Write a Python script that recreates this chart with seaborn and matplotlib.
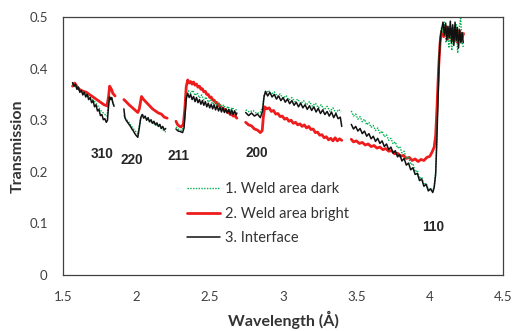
import matplotlib
matplotlib.use("Agg")
import matplotlib.pyplot as plt
from matplotlib.lines import Line2D
import seaborn as sns
import pandas as pd

# ---- data ----
series_names = ["1. Weld area dark", "2. Weld area bright", "3. Interface"]

dark_x = [
    [1.565, 1.60, 1.64, 1.68, 1.72, 1.76, 1.79, 1.80, 1.81, 1.82, 1.835, 1.848],
    [1.915, 1.93, 1.95, 1.97, 1.99, 2.01, 2.025, 2.04, 2.06, 2.08, 2.10, 2.13, 2.16, 2.18, 2.20],
    [2.27, 2.29, 2.31, 2.325, 2.335, 2.345, 2.355, 2.37, 2.385, 2.40, 2.415, 2.43, 2.445, 2.46, 2.475, 2.49, 2.505, 2.52, 2.535, 2.55, 2.565, 2.58, 2.595, 2.61, 2.625, 2.64, 2.655, 2.67, 2.685],
    [2.745, 2.77, 2.795, 2.82, 2.845, 2.86, 2.87, 2.885, 2.90, 2.92, 2.94, 2.96, 2.98, 3.00, 3.02, 3.04, 3.06, 3.08, 3.10, 3.12, 3.14, 3.16, 3.18, 3.20, 3.22, 3.24, 3.26, 3.28, 3.30, 3.32, 3.34, 3.36, 3.38, 3.395],
    [3.465, 3.48, 3.495, 3.51, 3.525, 3.54, 3.555, 3.57, 3.585, 3.60, 3.615, 3.63, 3.645, 3.66, 3.675, 3.69, 3.705, 3.72, 3.735, 3.75, 3.765, 3.78, 3.795, 3.81, 3.825, 3.84, 3.855, 3.87, 3.885, 3.90, 3.915, 3.93, 3.945, 3.96, 3.975, 3.99, 4.005, 4.02, 4.03, 4.04, 4.048, 4.056, 4.064, 4.072, 4.08, 4.09, 4.10, 4.11, 4.12, 4.13, 4.14, 4.15, 4.16, 4.17, 4.18, 4.19, 4.20, 4.21, 4.22, 4.23],
]
dark_y = [
    [0.370, 0.360, 0.354, 0.345, 0.335, 0.318, 0.310, 0.308, 0.335, 0.345, 0.338, 0.330],
    [0.310, 0.302, 0.296, 0.287, 0.280, 0.274, 0.298, 0.312, 0.305, 0.300, 0.296, 0.292, 0.287, 0.282, 0.277],
    [0.287, 0.282, 0.280, 0.290, 0.325, 0.350, 0.357, 0.352, 0.358, 0.348, 0.353, 0.343, 0.349, 0.339, 0.345, 0.335, 0.340, 0.331, 0.336, 0.327, 0.333, 0.324, 0.330, 0.321, 0.327, 0.319, 0.325, 0.317, 0.322],
    [0.320, 0.316, 0.319, 0.313, 0.315, 0.325, 0.348, 0.352, 0.358, 0.350, 0.355, 0.346, 0.351, 0.342, 0.348, 0.339, 0.344, 0.336, 0.341, 0.332, 0.338, 0.330, 0.336, 0.327, 0.333, 0.324, 0.330, 0.320, 0.327, 0.317, 0.324, 0.314, 0.321, 0.316],
    [0.318, 0.308, 0.312, 0.302, 0.307, 0.297, 0.302, 0.291, 0.296, 0.286, 0.290, 0.280, 0.285, 0.274, 0.279, 0.268, 0.272, 0.261, 0.265, 0.254, 0.258, 0.246, 0.249, 0.237, 0.240, 0.226, 0.229, 0.214, 0.216, 0.200, 0.203, 0.187, 0.190, 0.175, 0.178, 0.166, 0.168, 0.162, 0.172, 0.200, 0.27, 0.35, 0.43, 0.465, 0.48, 0.47, 0.49, 0.45, 0.48, 0.44, 0.47, 0.435, 0.48, 0.45, 0.485, 0.43, 0.475, 0.50, 0.45, 0.44],
]

bright_x = [
    [1.565, 1.58, 1.60, 1.62, 1.64, 1.66, 1.68, 1.70, 1.72, 1.74, 1.76, 1.78, 1.80, 1.81, 1.818, 1.83, 1.84, 1.855],
    [1.915, 1.93, 1.95, 1.97, 1.99, 2.01, 2.02, 2.035, 2.05, 2.07, 2.09, 2.11, 2.13, 2.15, 2.17, 2.19, 2.21],
    [2.27, 2.28, 2.29, 2.305, 2.32, 2.33, 2.34, 2.35, 2.36, 2.37, 2.38, 2.39, 2.40, 2.41, 2.42, 2.43, 2.44, 2.45, 2.46, 2.47, 2.48, 2.49, 2.50, 2.51, 2.52, 2.53, 2.54, 2.55, 2.56, 2.57, 2.58, 2.59, 2.60, 2.61, 2.62, 2.63, 2.64, 2.65, 2.66, 2.67, 2.685],
    [2.745, 2.765, 2.785, 2.805, 2.825, 2.845, 2.858, 2.865, 2.875, 2.89, 2.905, 2.92, 2.935, 2.95, 2.965, 2.98, 2.995, 3.01, 3.025, 3.04, 3.055, 3.07, 3.085, 3.10, 3.115, 3.13, 3.145, 3.16, 3.175, 3.19, 3.205, 3.22, 3.235, 3.25, 3.265, 3.28, 3.295, 3.31, 3.325, 3.34, 3.355, 3.37, 3.385, 3.40],
    [3.465, 3.48, 3.50, 3.52, 3.54, 3.56, 3.58, 3.60, 3.62, 3.64, 3.66, 3.68, 3.70, 3.72, 3.74, 3.76, 3.78, 3.80, 3.82, 3.84, 3.86, 3.88, 3.90, 3.92, 3.94, 3.96, 3.98, 4.00, 4.015, 4.03, 4.04, 4.05, 4.06, 4.07, 4.08, 4.095, 4.11, 4.125, 4.14, 4.155, 4.17, 4.185, 4.20, 4.215, 4.23],
]
bright_y = [
    [0.366, 0.372, 0.363, 0.358, 0.356, 0.354, 0.350, 0.346, 0.342, 0.338, 0.334, 0.330, 0.328, 0.345, 0.366, 0.360, 0.352, 0.347],
    [0.340, 0.336, 0.330, 0.325, 0.320, 0.315, 0.322, 0.346, 0.340, 0.334, 0.328, 0.322, 0.318, 0.314, 0.312, 0.306, 0.304],
    [0.298, 0.292, 0.289, 0.287, 0.292, 0.320, 0.365, 0.378, 0.372, 0.375, 0.370, 0.374, 0.368, 0.370, 0.364, 0.366, 0.360, 0.361, 0.355, 0.356, 0.350, 0.350, 0.344, 0.345, 0.339, 0.339, 0.334, 0.334, 0.328, 0.329, 0.323, 0.324, 0.319, 0.320, 0.315, 0.316, 0.311, 0.312, 0.308, 0.309, 0.304],
    [0.296, 0.291, 0.289, 0.283, 0.281, 0.276, 0.280, 0.305, 0.326, 0.322, 0.324, 0.317, 0.319, 0.312, 0.313, 0.307, 0.308, 0.302, 0.304, 0.298, 0.300, 0.294, 0.296, 0.291, 0.293, 0.288, 0.291, 0.285, 0.288, 0.282, 0.283, 0.276, 0.277, 0.271, 0.272, 0.266, 0.268, 0.262, 0.265, 0.260, 0.266, 0.260, 0.264, 0.261],
    [0.263, 0.258, 0.260, 0.255, 0.257, 0.252, 0.254, 0.249, 0.251, 0.246, 0.248, 0.243, 0.245, 0.240, 0.241, 0.235, 0.236, 0.230, 0.232, 0.226, 0.228, 0.222, 0.225, 0.220, 0.224, 0.222, 0.228, 0.230, 0.238, 0.248, 0.270, 0.330, 0.400, 0.450, 0.472, 0.462, 0.482, 0.458, 0.478, 0.455, 0.476, 0.452, 0.474, 0.455, 0.468],
]

inter_x = [
    [1.565, 1.575, 1.585, 1.595, 1.605, 1.615, 1.625, 1.635, 1.645, 1.655, 1.665, 1.675, 1.685, 1.695, 1.705, 1.715, 1.725, 1.735, 1.745, 1.755, 1.765, 1.775, 1.785, 1.795, 1.803, 1.81, 1.817, 1.825, 1.832, 1.84, 1.848],
    [1.915, 1.922, 1.93, 1.94, 1.95, 1.96, 1.97, 1.98, 1.99, 2.00, 2.01, 2.02, 2.03, 2.04, 2.05, 2.06, 2.07, 2.08, 2.09, 2.10, 2.11, 2.12, 2.13, 2.14, 2.15, 2.16, 2.17, 2.18, 2.19, 2.20],
    [2.27, 2.285, 2.30, 2.315, 2.325, 2.333, 2.34, 2.35, 2.36, 2.37, 2.38, 2.39, 2.40, 2.41, 2.42, 2.43, 2.44, 2.45, 2.46, 2.47, 2.48, 2.49, 2.50, 2.51, 2.52, 2.53, 2.54, 2.55, 2.56, 2.57, 2.58, 2.59, 2.60, 2.61, 2.62, 2.63, 2.64, 2.65, 2.66, 2.67, 2.68, 2.685],
    [2.745, 2.765, 2.785, 2.805, 2.825, 2.845, 2.86, 2.87, 2.88, 2.895, 2.91, 2.925, 2.94, 2.955, 2.97, 2.985, 3.00, 3.015, 3.03, 3.045, 3.06, 3.075, 3.09, 3.105, 3.12, 3.135, 3.15, 3.165, 3.18, 3.195, 3.21, 3.225, 3.24, 3.255, 3.27, 3.285, 3.30, 3.315, 3.33, 3.345, 3.36, 3.375, 3.39, 3.40],
    [3.465, 3.48, 3.495, 3.51, 3.525, 3.54, 3.555, 3.57, 3.585, 3.60, 3.615, 3.63, 3.645, 3.66, 3.675, 3.69, 3.705, 3.72, 3.735, 3.75, 3.765, 3.78, 3.795, 3.81, 3.825, 3.84, 3.855, 3.87, 3.885, 3.90, 3.915, 3.93, 3.945, 3.96, 3.975, 3.99, 4.005, 4.02, 4.03, 4.04, 4.048, 4.056, 4.064, 4.072, 4.08, 4.09, 4.10, 4.108, 4.116, 4.124, 4.132, 4.14, 4.148, 4.156, 4.164, 4.172, 4.18, 4.188, 4.196, 4.204, 4.212, 4.22, 4.228],
]
inter_y = [
    [0.373, 0.366, 0.370, 0.360, 0.364, 0.354, 0.358, 0.349, 0.354, 0.345, 0.350, 0.340, 0.344, 0.334, 0.338, 0.326, 0.330, 0.318, 0.321, 0.309, 0.311, 0.301, 0.303, 0.296, 0.300, 0.325, 0.345, 0.340, 0.344, 0.333, 0.327],
    [0.322, 0.305, 0.300, 0.296, 0.292, 0.288, 0.283, 0.279, 0.274, 0.270, 0.267, 0.285, 0.305, 0.311, 0.304, 0.308, 0.300, 0.305, 0.297, 0.301, 0.294, 0.298, 0.291, 0.295, 0.288, 0.292, 0.284, 0.288, 0.281, 0.284],
    [0.283, 0.279, 0.278, 0.276, 0.285, 0.315, 0.342, 0.352, 0.344, 0.350, 0.340, 0.346, 0.336, 0.344, 0.334, 0.340, 0.331, 0.338, 0.329, 0.336, 0.326, 0.333, 0.324, 0.331, 0.322, 0.330, 0.320, 0.328, 0.318, 0.325, 0.316, 0.324, 0.315, 0.322, 0.314, 0.321, 0.312, 0.320, 0.311, 0.318, 0.310, 0.314],
    [0.315, 0.309, 0.314, 0.308, 0.312, 0.305, 0.318, 0.345, 0.356, 0.347, 0.354, 0.345, 0.350, 0.341, 0.347, 0.338, 0.344, 0.335, 0.341, 0.332, 0.338, 0.329, 0.335, 0.326, 0.333, 0.324, 0.330, 0.321, 0.328, 0.319, 0.326, 0.316, 0.323, 0.313, 0.320, 0.311, 0.317, 0.308, 0.316, 0.305, 0.313, 0.303, 0.306, 0.288],
    [0.292, 0.283, 0.288, 0.279, 0.284, 0.274, 0.279, 0.269, 0.274, 0.264, 0.269, 0.259, 0.265, 0.255, 0.260, 0.249, 0.254, 0.243, 0.248, 0.236, 0.241, 0.229, 0.234, 0.221, 0.226, 0.213, 0.217, 0.204, 0.208, 0.195, 0.197, 0.183, 0.186, 0.172, 0.176, 0.163, 0.167, 0.160, 0.170, 0.195, 0.26, 0.34, 0.42, 0.46, 0.475, 0.49, 0.465, 0.488, 0.455, 0.482, 0.46, 0.492, 0.45, 0.485, 0.445, 0.49, 0.455, 0.48, 0.44, 0.475, 0.45, 0.47, 0.45],
]

peak_labels = ["310", "220", "211", "200", "110"]
peak_label_x = [1.766, 1.970, 2.284, 2.823, 4.022]
peak_label_y = [0.234, 0.223, 0.231, 0.236, 0.093]

x_ticks = [1.5, 2, 2.5, 3, 3.5, 4, 4.5]
y_ticks = [0, 0.1, 0.2, 0.3, 0.4, 0.5]

# ---- long table ----
rows = []
for name, xs, ys in zip(series_names, [dark_x, bright_x, inter_x], [dark_y, bright_y, inter_y]):
    for seg, (sx, sy) in enumerate(zip(xs, ys)):
        for xv, yv in zip(sx, sy):
            rows.append({"Wavelength": xv, "Transmission": yv, "Series": name, "Segment": seg})
df = pd.DataFrame(rows)

sns.set_theme(style="white")
plt.rcParams["font.family"] = ["Lato", "DejaVu Sans"]

fig = plt.figure(figsize=(5.13, 3.31), dpi=100)
ax = fig.add_axes([0.1228, 0.169, 0.858, 0.7796])

styles = {
    "1. Weld area dark": dict(color="#00b050", lw=1.0, ls=(0, (1, 1))),
    "2. Weld area bright": dict(color="#ee1c1c", lw=2.0, ls="-"),
    "3. Interface": dict(color="#111111", lw=1.1, ls="-"),
}
order = ["2. Weld area bright", "1. Weld area dark", "3. Interface"]
for name in order:
    sub = df[df["Series"] == name]
    for seg, g in sub.groupby("Segment"):
        sns.lineplot(data=g, x="Wavelength", y="Transmission", ax=ax, sort=False,
                     estimator=None, color=styles[name]["color"],
                     linewidth=styles[name]["lw"], linestyle=styles[name]["ls"],
                     legend=False)

handles = [Line2D([], [], color=styles[n]["color"], lw=styles[n]["lw"], ls=styles[n]["ls"]) for n in series_names]
leg = ax.legend(handles, series_names, loc="upper left", bbox_to_anchor=(0.268, 0.382),
                frameon=False, fontsize=10.5, handlelength=2.3, handletextpad=0.3,
                labelspacing=0.72, borderaxespad=0)
for t in leg.get_texts():
    t.set_color("#333333")

for lab, lx, ly in zip(peak_labels, peak_label_x, peak_label_y):
    ax.text(lx, ly, lab, ha="center", va="center", fontsize=9.8, fontweight="bold",
            color="#262626", family=["Liberation Sans", "DejaVu Sans"])

ax.set_xlim(1.5, 4.5)
ax.set_ylim(0, 0.5)
ax.set_xticks(x_ticks)
ax.set_xticklabels([f"{v:g}" for v in x_ticks])
ax.set_yticks(y_ticks)
ax.set_yticklabels([f"{v:g}" for v in y_ticks])
ax.tick_params(direction="in", length=4, width=0.8, colors="#404040", labelsize=9.5,
               labelcolor="#404040")
ax.tick_params(axis="y", pad=11)
ax.tick_params(axis="x", pad=11.5)
for s in ax.spines.values():
    s.set_color("#404040")
    s.set_linewidth(0.9)
    s.set_visible(True)
ax.set_xlabel("Wavelength (Å)", fontsize=11.5, fontweight="bold", color="#333333", labelpad=6)
ax.set_ylabel("Transmission", fontsize=11.5, fontweight="bold", color="#333333", labelpad=3)

fig.savefig("out.png", dpi=100)
